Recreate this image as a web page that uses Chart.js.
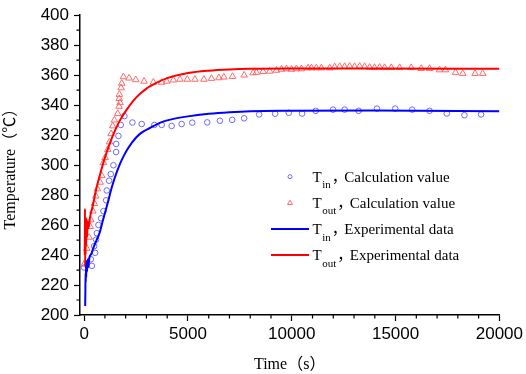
<!DOCTYPE html>
<html lang="en">
<head>
<meta charset="UTF-8">
<title>Temperature vs Time</title>
<script src="https://cdn.jsdelivr.net/npm/chart.js"></script>
<style>
  html, body { margin: 0; padding: 0; background: #fff; }
  .chart-box { width: 526px; height: 374px; }
</style>
</head>
<body>
<div class="chart-box"><canvas id="tempChart"></canvas></div>
<script>
// Tin, calculation value (circles)
const tinCalcTime = [0, 322, 370, 481, 529, 577, 611, 688, 817, 930, 1058, 1090, 1202, 1282, 1410, 1538, 1545, 1651, 1763, 1939,
  2324, 2772, 3381, 3734, 4214, 4695, 5208, 5929, 6538, 7131, 7708, 8429, 9199, 9856, 10497, 11154, 11987, 12548,
  13221, 14103, 14984, 15801, 16635, 17468, 18317, 19119];
const tinCalcTemp = [231.7, 237.2, 232.8, 245.9, 241.5, 250.3, 254.6, 260.1, 264.5, 269.3, 276.5, 283.1, 289.6, 294.0, 299.9, 308.7, 314.1, 319.5, 326.8, 332.7,
  328.4, 327.4, 326.8, 326.8, 326.1, 327.4, 328.3, 328.5, 329.6, 330.2, 331.2, 333.8, 334.3, 334.9, 334.4, 336.2, 337.0, 337.0,
  336.2, 337.7, 337.7, 337.0, 336.2, 334.4, 333.3, 333.8];

// Tout, calculation value (triangles)
const toutCalcTime = [0, 130, 240, 288, 322, 418, 495, 562, 640, 769, 850, 930, 1010, 1138, 1218, 1298, 1378, 1458, 1618, 1683,
  1730, 1690, 1700, 1780, 1810, 1890, 2163, 2484, 2885, 3333, 3734, 3975, 4295, 4615, 4968, 5336, 5769, 6135, 6490,
  6730, 7147, 7708, 8140, 8300, 8620, 8942, 9263, 9503, 9744, 9984, 10224, 10465, 10785, 10946, 11186, 11426, 11827,
  12067, 12308, 12548, 12788, 13029, 13269, 13510, 13750, 13990, 14231, 14471, 14792, 15192, 15753, 16234, 16635,
  17115, 17404, 17885, 18237, 18830, 19199];
const toutCalcTemp = [233.9, 244.4, 251.8, 259.0, 263.4, 269.3, 274.3, 279.3, 284.1, 288.5, 292.9, 301.6, 304.9, 310.4, 315.4, 320.9, 326.1, 330.0, 334.4, 339.2,
  341.6, 344.3, 347.1, 351.5, 354.5, 358.9, 358.0, 356.9, 355.9, 355.2, 355.2, 355.9, 356.7, 357.2, 357.2, 357.2, 357.2, 357.8, 358.2,
  358.7, 359.1, 360.0, 361.5, 361.8, 362.4, 362.6, 363.2, 363.9, 364.2, 363.9, 364.2, 364.2, 364.8, 364.8, 364.8, 364.8, 364.8,
  365.5, 365.7, 365.7, 365.9, 365.7, 365.9, 365.7, 365.2, 365.0, 365.2, 365.0, 365.0, 365.0, 365.0, 364.4, 364.4,
  363.5, 363.5, 361.8, 361.1, 361.1, 361.1];

// Tin, experimental data (blue line)
const tinExpTime = [50, 60, 70, 80, 90, 100, 120, 140, 170, 200, 250, 350, 450, 600, 750, 900, 1100, 1350, 1600, 1900,
  2300, 2700, 3200, 3700, 4200, 5000, 6000, 7000, 8000, 10000, 14000, 20000];
const tinExpTemp = [206, 218, 228, 222, 233, 225, 236, 229, 237, 232, 238, 241, 245, 250, 255, 263, 273, 286, 296.5, 306,
  315, 321, 325, 328.5, 330.5, 332.5, 334.2, 335.3, 336, 336.3, 336.4, 336];

// Tout, experimental data (red line)
const toutExpTime = [30, 40, 50, 60, 70, 85, 100, 120, 140, 170, 210, 280, 400, 600, 800, 1000, 1250, 1500, 1750, 2000,
  2500, 3000, 3500, 4000, 5000, 6000, 7000, 8000, 10000, 14000, 20000];
const toutExpTemp = [240, 271, 232, 266, 240, 262, 246, 264, 252, 262, 258, 265, 272, 285, 295.5, 305, 315, 323.5, 330.5, 336,
  345, 351, 355, 358, 361.4, 363, 363.8, 364.2, 364.4, 364.4, 364.2];

const xTicks = [0, 5000, 10000, 15000, 20000];
const xMinorTicks = [1000, 2000, 3000, 4000, 6000, 7000, 8000, 9000, 11000, 12000, 13000, 14000, 16000, 17000, 18000, 19000];
const yMinorTicks = [210, 230, 250, 270, 290, 310, 330, 350, 370, 390];

const legendRows = [
  { sub: 'in', text: 'Calculation value' },
  { sub: 'out', text: 'Calculation value' },
  { sub: 'in', text: 'Experimental data' },
  { sub: 'out', text: 'Experimental data' }
];

function pts(xs, ys) {
  return xs.map((x, i) => ({ x: x, y: ys[i] }));
}

const BLUE = '#0000ff';
const RED = '#ff0000';
const BLUE_PT = '#6a6aff';
const RED_PT = '#ff6a6a';
const SERIF = "'Liberation Serif', 'Times New Roman', 'Noto Sans CJK SC', serif";
const SANS = "'Liberation Sans', Arial, sans-serif";

// minor ticks on both axes
const minorTicks = {
  id: 'minorTicks',
  afterDraw(chart) {
    const { ctx, chartArea, scales } = chart;
    ctx.save();
    ctx.strokeStyle = '#000';
    ctx.lineWidth = 1.2;
    ctx.beginPath();
    xMinorTicks.forEach(v => {
      const px = scales.x.getPixelForValue(v);
      ctx.moveTo(px, chartArea.bottom);
      ctx.lineTo(px, chartArea.bottom + 3.5);
    });
    yMinorTicks.forEach(v => {
      const py = scales.y.getPixelForValue(v);
      ctx.moveTo(chartArea.left - 3.5, py);
      ctx.lineTo(chartArea.left, py);
    });
    ctx.stroke();
    ctx.restore();
  }
};

// legend with subscripts
const subLegend = {
  id: 'subLegend',
  afterDraw(chart) {
    const ctx = chart.ctx;
    const markerX = 290, textX = 312.5, rowY = [176.7, 202.7, 229, 255];
    ctx.save();
    legendRows.forEach((row, i) => {
      const y = rowY[i];
      const ds = chart.data.datasets[i];
      ctx.strokeStyle = ds.borderColor;
      if (ds.showLine) {
        ctx.lineWidth = 2;
        ctx.beginPath();
        ctx.moveTo(271, y);
        ctx.lineTo(309, y);
        ctx.stroke();
      } else {
        ctx.lineWidth = 1;
        ctx.beginPath();
        if (ds.pointStyle === 'triangle') {
          ctx.moveTo(markerX, y - 2.5);
          ctx.lineTo(markerX + 2.5, y + 1.8);
          ctx.lineTo(markerX - 2.5, y + 1.8);
          ctx.closePath();
        } else {
          ctx.arc(markerX, y, 2, 0, Math.PI * 2);
        }
        ctx.stroke();
      }
      ctx.fillStyle = '#000';
      ctx.textBaseline = 'alphabetic';
      ctx.font = '15px ' + SERIF;
      ctx.fillText('T', textX, y + 5);
      let x = textX + ctx.measureText('T').width + 0.5;
      ctx.font = '11px ' + SERIF;
      ctx.fillText(row.sub, x, y + 11.5);
      x += ctx.measureText(row.sub).width + 1;
      ctx.font = '15px ' + SERIF;
      ctx.fillText('\uFF0C', x, y + 5);
      x += 12.5;
      ctx.fillText(row.text, x, y + 5);
    });
    ctx.restore();
  }
};

new Chart(document.getElementById('tempChart').getContext('2d'), {
  type: 'scatter',
  data: {
    datasets: [
      {
        label: 'Tin, Calculation value',
        data: pts(tinCalcTime, tinCalcTemp),
        showLine: false,
        pointStyle: 'circle',
        pointRadius: 2.8,
        borderWidth: 1,
        borderColor: BLUE_PT,
        backgroundColor: 'rgba(0,0,0,0)',
        order: 3
      },
      {
        label: 'Tout, Calculation value',
        data: pts(toutCalcTime, toutCalcTemp),
        showLine: false,
        pointStyle: 'triangle',
        pointRadius: 3.8,
        borderWidth: 1,
        borderColor: RED_PT,
        backgroundColor: 'rgba(0,0,0,0)',
        order: 4
      },
      {
        label: 'Tin, Experimental data',
        data: pts(tinExpTime, tinExpTemp),
        showLine: true,
        pointRadius: 0,
        borderWidth: 2,
        borderColor: BLUE,
        cubicInterpolationMode: 'monotone',
        order: 1
      },
      {
        label: 'Tout, Experimental data',
        data: pts(toutExpTime, toutExpTemp),
        showLine: true,
        pointRadius: 0,
        borderWidth: 2,
        borderColor: RED,
        cubicInterpolationMode: 'monotone',
        order: 2
      }
    ]
  },
  options: {
    responsive: true,
    maintainAspectRatio: false,
    animation: false,
    layout: { padding: { top: 10, right: 26, left: 0, bottom: 0 } },
    plugins: {
      legend: { display: false },
      tooltip: { enabled: false }
    },
    scales: {
      x: {
        type: 'linear',
        min: -200,
        max: 20000,
        afterBuildTicks: scale => { scale.ticks = xTicks.map(v => ({ value: v })); },
        afterFit: scale => { scale.height = 59; },
        grid: { drawOnChartArea: false, drawTicks: true, tickLength: 6, tickWidth: 1.2, tickColor: '#000' },
        border: { display: true, color: '#000', width: 1.5 },
        ticks: { color: '#000', font: { family: SANS, size: 17 }, padding: 3, maxRotation: 0, callback: v => String(v) },
        title: { display: true, text: 'Time\uFF08s\uFF09', color: '#000', font: { family: SERIF, size: 16 }, padding: 0 }
      },
      y: {
        min: 200,
        max: 400,
        afterFit: scale => { scale.width = 80; },
        ticks: { stepSize: 20, color: '#000', font: { family: SANS, size: 17 }, padding: 5, callback: v => String(v) },
        grid: { drawOnChartArea: false, drawTicks: true, tickLength: 6, tickWidth: 1.2, tickColor: '#000' },
        border: { display: true, color: '#000', width: 1.5 },
        title: { display: true, text: 'Temperature\uFF08\u2103\uFF09', color: '#000', font: { family: SERIF, size: 16 }, padding: { top: 1, bottom: 0 } }
      }
    }
  },
  plugins: [minorTicks, subLegend]
});
</script>
</body>
</html>
